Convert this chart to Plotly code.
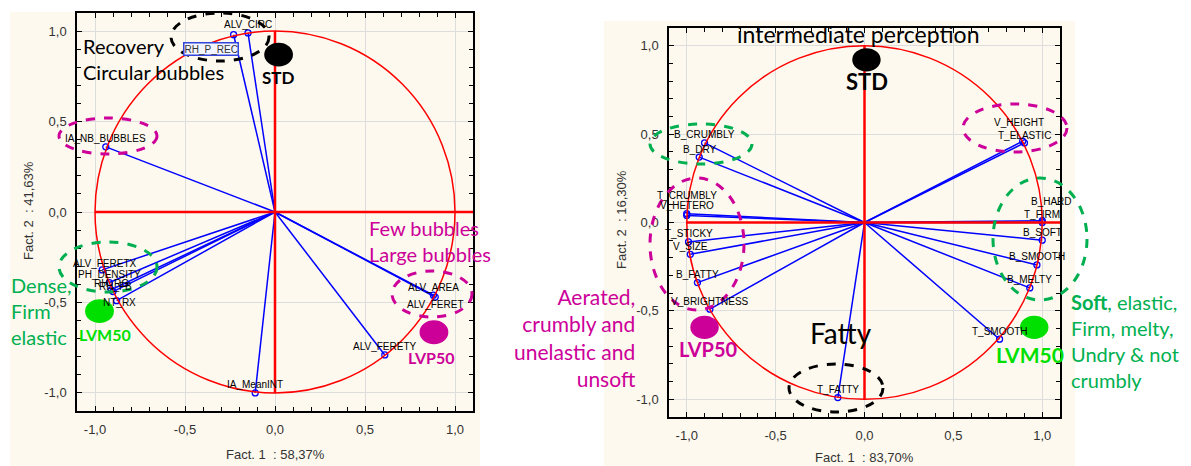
import plotly.graph_objects as go

W, H = 1191, 466
OFF = 8                      # default page margin around the plot div
FW, FH = W - OFF, H - OFF

# ---- loadings, left circle (Fact. 1 : 58,37% / Fact. 2 : 41,63%)
L_NAMES = ["ALV_CIRC", "RH_P_REC", "IA_NB_BUBBLES", "ALV_FERETX", "PH_DENSITY", "RH_RG",
           "RH_FB", "NT_RX", "IA_MeanINT", "ALV_AREA", "ALV_FERET", "ALV_FERETY"]
L_X = [-0.15, -0.23, -0.94, -0.96, -0.92, -0.91, -0.90, -0.88, -0.11, 0.88, 0.89, 0.61]
L_Y = [0.99, 0.98, 0.36, -0.32, -0.39, -0.43, -0.44, -0.49, -1.00, -0.46, -0.47, -0.79]

# ---- loadings, right circle (Fact. 1 : 83,70% / Fact. 2 : 16,30%)
R_NAMES = ["B_CRUMBLY", "B_DRY", "T_CRUMBLY", "V_HETERO", "T_STICKY", "V_SIZE", "B_FATTY",
           "V_BRIGHTNESS", "V_HEIGHT", "T_ELASTIC", "B_HARD", "T_FIRM", "B_SOFT", "B_SMOOTH",
           "B_MELTY", "T_SMOOTH", "T_FATTY"]
R_X = [-0.90, -0.93, -1.00, -1.00, -0.99, -0.98, -0.94, -0.87, 0.89, 0.90, 1.00, 1.00,
       1.00, 0.97, 0.93, 0.76, -0.15]
R_Y = [0.45, 0.37, 0.05, 0.04, -0.11, -0.18, -0.34, -0.49, 0.46, 0.45, 0.01, 0.00,
       -0.10, -0.24, -0.37, -0.66, -0.99]

# ---- supplementary samples
L_SAMPLES = ["STD", "LVM50", "LVP50"]
L_SX = [0.02, -0.975, 0.883]
L_SY = [0.87, -0.548, -0.665]
R_SAMPLES = ["STD", "LVP50", "LVM50"]
R_SX = [0.011, -0.90, 0.955]
R_SY = [0.92, -0.593, -0.593]

TICK_VALS = [-1.0, -0.5, 0.0, 0.5, 1.0]
TICK_TEXT = ["-1,0", "-0,5", "0,0", "0,5", "1,0"]

AXIS_TITLES = [("Fact. 1  : 58,37%", "Fact. 2  : 41,63%"), ("Fact. 1  : 83,70%", "Fact. 2  : 16,30%")]

BLUE = "#0000FF"
RED = "#FF0000"
MAG = "#CC0099"
GREEN = "#00B050"
LIME = "#00E000"
CREAM = "#FDF9EE"
SAMPLE_COL = {"STD": "black", "LVM50": LIME, "LVP50": MAG}

# label offsets in px (default: just above the point)
LABEL_SHIFT = {
    "ALV_FERETX": (2, 6), "RH_RG": (0, 6), "RH_FB": (2, 5), "NT_RX": (3, -2),
    "ALV_FERET": (0, -7), "T_CRUMBLY": (0, 18), "V_HETERO": (0, 10),
    "V_HEIGHT": (-4, 19), "T_ELASTIC": (0, 7), "B_HARD": (9, 19),
}


def px(x):
    return (x - OFF) / FW


def py(y):
    return 1 - (y - OFF) / FH


fig = go.Figure()

panels = [("x", "y", L_NAMES, L_X, L_Y, L_SAMPLES, L_SX, L_SY),
          ("x2", "y2", R_NAMES, R_X, R_Y, R_SAMPLES, R_SX, R_SY)]

annotations = []
shapes = []

# cream panel backgrounds
for x0, y0, x1 in [(10, 12, 480), (604, 21, 1075)]:
    shapes.append(dict(type="rect", xref="paper", yref="paper", x0=px(x0), x1=px(x1),
                       y0=0, y1=py(y0), fillcolor=CREAM, line_width=0, layer="below"))

for xr, yr, names, xs, ys, snames, sx, sy in panels:
    # reference circle and cross
    shapes.append(dict(type="circle", xref=xr, yref=yr, x0=-1, y0=-1, x1=1, y1=1,
                       line=dict(color=RED, width=1.5), layer="above"))
    shapes.append(dict(type="line", xref=xr, yref=yr, x0=-1, x1=1.1, y0=0, y1=0,
                       line=dict(color=RED, width=2.5), layer="above"))
    shapes.append(dict(type="line", xref=xr, yref=yr, x0=0, x1=0, y0=-1, y1=1,
                       line=dict(color=RED, width=2.5), layer="above"))

    lx, ly = [], []
    for a, b in zip(xs, ys):
        lx += [0, a, None]
        ly += [0, b, None]
    fig.add_trace(go.Scatter(x=lx, y=ly, xaxis=xr, yaxis=yr, mode="lines",
                             line=dict(color=BLUE, width=1.5), hoverinfo="skip", showlegend=False))
    fig.add_trace(go.Scatter(x=xs, y=ys, xaxis=xr, yaxis=yr, mode="markers", text=names,
                             marker=dict(symbol="circle-open", size=6, color=BLUE, line=dict(width=1.3)),
                             showlegend=False))

    for n, a, b in zip(names, xs, ys):
        if n == "RH_P_REC":
            annotations.append(dict(x=a, y=b, xref=xr, yref=yr, text=n, showarrow=False,
                                    xshift=-23, yshift=-14, bgcolor="#F2F4FF", bordercolor="#3344DD",
                                    borderwidth=1.5, borderpad=0,
                                    font=dict(family="Liberation Sans", size=10, color="#333")))
            continue
        dx, dy = LABEL_SHIFT.get(n, (0, 8))
        annotations.append(dict(x=a, y=b, xref=xr, yref=yr, text=n, showarrow=False,
                                xshift=dx, yshift=dy,
                                font=dict(family="Liberation Sans", size=10, color="black")))

    for n, a, b in zip(snames, sx, sy):
        shapes.append(dict(type="circle", xref=xr, yref=yr, x0=a - 0.08, x1=a + 0.08,
                           y0=b - 0.066, y1=b + 0.066, fillcolor=SAMPLE_COL[n],
                           line_width=0, layer="above"))

# sample labels
for xr, yr, n, a, b, dx, dy, size in [
    ("x", "y", "STD", L_SX[0], L_SY[0], 0, -23, 17),
    ("x", "y", "LVM50", L_SX[1], L_SY[1], 5, -23, 16),
    ("x", "y", "LVP50", L_SX[2], L_SY[2], -2, -25, 16),
    ("x2", "y2", "STD", R_SX[0], R_SY[0], 1, -22, 22),
    ("x2", "y2", "LVP50", R_SX[1], R_SY[1], 4, -22, 20),
    ("x2", "y2", "LVM50", R_SX[2], R_SY[2], -4, -27, 21),
]:
    annotations.append(dict(x=a, y=b, xref=xr, yref=yr, text=f"<b>{n}</b>", showarrow=False,
                            xshift=dx, yshift=dy,
                            font=dict(family="Lato", size=size, color=SAMPLE_COL[n])))

# dashed group ellipses (page pixel positions)
for cx, cy, rx, ry, col in [
    (220, 37, 49, 24, "black"), (108, 136, 49, 18, MAG), (108, 267, 49, 25, GREEN),
    (432, 294, 40, 23, MAG),
    (1015, 128, 52, 24, MAG), (1040, 239, 47, 61, GREEN), (701, 144, 51, 20, GREEN),
    (697, 244, 47, 66, MAG), (836, 388, 47, 24, "black"),
]:
    shapes.append(dict(type="circle", xref="paper", yref="paper", x0=px(cx - rx), x1=px(cx + rx),
                       y0=py(cy + ry), y1=py(cy - ry), line=dict(color=col, width=3, dash="dash"),
                       layer="above"))

# commentary text
for text, x, y, xa, col, size in [
    ("Recovery<br>Circular bubbles", 81, 59, "left", "black", 20),
    ("Dense,<br>Firm<br>elastic", 9, 311, "left", GREEN, 20),
    ("Few bubbles<br>Large bubbles", 367, 241, "left", MAG, 20),
    ("intermediate perception", 859, 34, "center", "black", 23),
    ("Fatty", 841, 333, "center", "black", 28),
    ("Aerated,<br>crumbly and<br>unelastic and<br>unsoft", 638, 337, "right", MAG, 21),
    ("<b>Soft</b>, elastic,<br>Firm, melty,<br>Undry & not<br>crumbly", 1069, 341, "left", GREEN, 20),
]:
    annotations.append(dict(x=px(x), y=py(y), xref="paper", yref="paper", text=text,
                            showarrow=False, xanchor=xa, yanchor="middle", align=xa,
                            font=dict(family="Lato", size=size, color=col)))

# axis titles
for (xt, yt), (xc, xy, yx, yc) in zip(AXIS_TITLES, [(275, 454, 28, 211), (864, 457, 621, 220)]):
    annotations.append(dict(x=px(xc), y=py(xy), xref="paper", yref="paper", text=xt, showarrow=False,
                            xanchor="center", yanchor="middle",
                            font=dict(family="Liberation Sans", size=13, color="#333")))
    annotations.append(dict(x=px(yx), y=py(yc), xref="paper", yref="paper", text=yt, showarrow=False,
                            xanchor="center", yanchor="middle", textangle=-90,
                            font=dict(family="Liberation Sans", size=13, color="#333")))

axis_common = dict(
    range=[-1.1, 1.1], tickvals=TICK_VALS, ticktext=TICK_TEXT, showline=True, linecolor="black",
    linewidth=1.5, mirror="allticks", ticks="inside", ticklen=5, tickcolor="black",
    minor=dict(dtick=0.1, ticks="inside", ticklen=4, tickcolor="black", showgrid=False),
    showgrid=True, gridcolor="#DDDDDD", gridwidth=1, zeroline=False, ticklabelstandoff=6,
    tickfont=dict(family="Liberation Sans", size=13, color="#333"), fixedrange=True,
)

fig.update_layout(
    width=FW, height=FH, margin=dict(l=0, r=0, t=0, b=0),
    paper_bgcolor="white", plot_bgcolor="white", showlegend=False,
    xaxis=dict(domain=[px(77), px(473)], anchor="y", **axis_common),
    yaxis=dict(domain=[py(411), py(13)], anchor="x", **axis_common),
    xaxis2=dict(domain=[px(669), px(1060)], anchor="y2", **axis_common),
    yaxis2=dict(domain=[py(417), py(28)], anchor="x2", **axis_common),
    shapes=shapes, annotations=annotations,
)

fig.write_html("out.html")
